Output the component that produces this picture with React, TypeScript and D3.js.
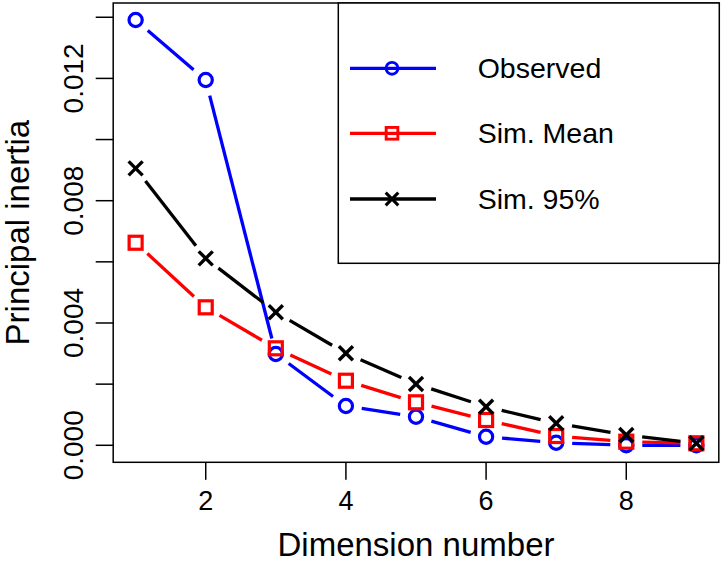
import React from "react";
import * as d3 from "d3";

const dims = [1, 2, 3, 4, 5, 6, 7, 8, 9];
const observed = [0.01391, 0.011946, 0.002986, 0.001285, 0.000935, 0.000281, 0.000085, 0.0, 0.0];
const simMean = [0.006625, 0.004513, 0.003172, 0.002112, 0.001406, 0.000827, 0.000304, 0.000118, 0.000065];
const sim95 = [0.009058, 0.006115, 0.004349, 0.003009, 0.002005, 0.001262, 0.000719, 0.000337, 0.000065];
const xTicks = [2, 4, 6, 8];
const yTicks = [0, 0.002, 0.004, 0.006, 0.008, 0.01, 0.012, 0.014];
const yLabelTicks = [0, 0.004, 0.008, 0.012];
const seriesNames = ["Observed", "Sim. Mean", "Sim. 95%"];
const seriesColors = ["#0000ff", "#ff0000", "#000000"];
const seriesShapes = ["circle", "square", "cross"];

const W = 724;
const H = 564;
const left = 113.2;
const right = 718.8;
const top = 3;
const bottom = 462.3;
const FONT = "'Liberation Sans', Arial, Helvetica, sans-serif";

function Marker({ shape, cx, cy, color, s = 1 }: { shape: string; cx: number; cy: number; color: string; s?: number }) {
  if (shape === "circle") {
    return <circle cx={cx} cy={cy} r={6.6 * s} fill="none" stroke={color} strokeWidth={3.2 * s} />;
  }
  if (shape === "square") {
    const h = 6.5 * s;
    return <rect x={cx - h} y={cy - h} width={2 * h} height={2 * h} fill="none" stroke={color} strokeWidth={3.2 * s} />;
  }
  const h = 7 * s;
  return (
    <g stroke={color} strokeWidth={3.4 * s}>
      <line x1={cx - h} y1={cy - h} x2={cx + h} y2={cy + h} />
      <line x1={cx - h} y1={cy + h} x2={cx + h} y2={cy - h} />
    </g>
  );
}

export default function App() {
  const allVals = [...observed, ...simMean, ...sim95];
  const yMin = d3.min(allVals) as number;
  const yMax = d3.max(allVals) as number;
  const yr = yMax - yMin;
  const x = d3.scaleLinear().domain([0.68, 9.32]).range([left, right]);
  const y = d3.scaleLinear().domain([yMin - 0.04 * yr, yMax + 0.04 * yr]).range([bottom, top]);

  const series = [observed, simMean, sim95];
  const gap = 16;

  const segs = (vals: number[]) => {
    const out: { x1: number; y1: number; x2: number; y2: number }[] = [];
    for (let i = 0; i < vals.length - 1; i++) {
      const ax = x(dims[i]), ay = y(vals[i]);
      const bx = x(dims[i + 1]), by = y(vals[i + 1]);
      const len = Math.hypot(bx - ax, by - ay);
      if (len <= 2 * gap) continue;
      const ux = (bx - ax) / len, uy = (by - ay) / len;
      out.push({ x1: ax + ux * gap, y1: ay + uy * gap, x2: bx - ux * gap, y2: by - uy * gap });
    }
    return out;
  };

  const legLeft = 338.3, legTop = 3, legRight = 719.3, legBottom = 263.3;
  const legRows = [68.3, 133.3, 199];

  return (
    <svg width={W} height={H} style={{ position: "absolute", left: 0, top: 0, background: "#fff" }} fontFamily={FONT}>
      <rect x={0} y={0} width={W} height={H} fill="#fff" />
      {series.map((vals, si) => (
        <g key={"l" + si} stroke={seriesColors[si]} strokeWidth={3.3}>
          {segs(vals).map((s, i) => (
            <line key={i} x1={s.x1} y1={s.y1} x2={s.x2} y2={s.y2} />
          ))}
        </g>
      ))}
      {series.map((vals, si) => (
        <g key={"m" + si}>
          {vals.map((v, i) => (
            <Marker key={i} shape={seriesShapes[si]} cx={x(dims[i])} cy={y(v)} color={seriesColors[si]} />
          ))}
        </g>
      ))}
      <rect x={left} y={top} width={right - left} height={bottom - top} fill="none" stroke="#000" strokeWidth={1.5} />
      {xTicks.map((t) => (
        <g key={"xt" + t}>
          <line x1={x(t)} x2={x(t)} y1={bottom} y2={bottom + 17.5} stroke="#000" strokeWidth={1.5} />
          <text x={x(t)} y={510} textAnchor="middle" fontSize={27}>{t}</text>
        </g>
      ))}
      {yTicks.map((t) => (
        <line key={"yt" + t} x1={left - 17.5} x2={left} y1={y(t)} y2={y(t)} stroke="#000" strokeWidth={1.5} />
      ))}
      {yLabelTicks.map((t) => (
        <text key={"yl" + t} transform={`translate(83.3,${y(t)}) rotate(-90)`} textAnchor="middle" fontSize={28}>
          {d3.format(".3f")(t)}
        </text>
      ))}
      <text x={(left + right) / 2} y={556} textAnchor="middle" fontSize={33}>Dimension number</text>
      <text transform={`translate(29,${(top + bottom) / 2}) rotate(-90)`} textAnchor="middle" fontSize={33}>Principal inertia</text>
      <rect x={legLeft} y={legTop} width={legRight - legLeft} height={legBottom - legTop} fill="#fff" stroke="#000" strokeWidth={1.5} />
      {seriesNames.map((name, i) => (
        <g key={"lg" + i}>
          <line x1={350} x2={436} y1={legRows[i]} y2={legRows[i]} stroke={seriesColors[i]} strokeWidth={3.3} />
          <Marker shape={seriesShapes[i]} cx={392} cy={legRows[i]} color={seriesColors[i]} s={0.9} />
          <text x={477.7} y={legRows[i] + 10} fontSize={28.5}>{name}</text>
        </g>
      ))}
    </svg>
  );
}
